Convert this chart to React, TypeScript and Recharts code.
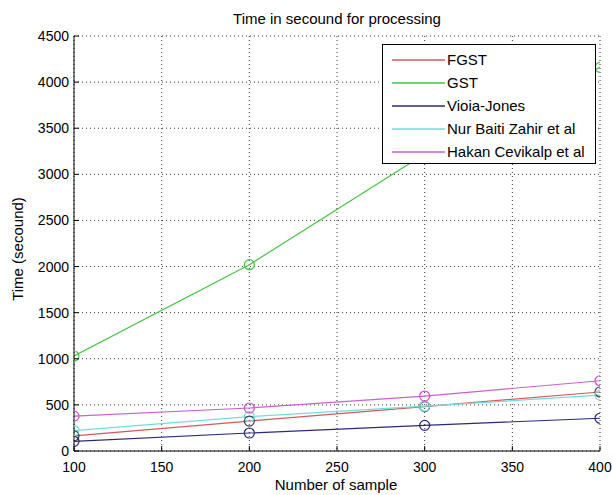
import React from "react";
import { LineChart, Line, XAxis, YAxis, CartesianGrid, Legend } from "recharts";

const samples = [100, 200, 300, 400];
const fgst = [165, 325, 482, 640];
const gst = [1030, 2020, 3220, 4160];
const violaJones = [105, 195, 278, 355];
const nurBaiti = [222, 372, 486, 606];
const hakan = [378, 466, 596, 762];

const xTicks = [100, 150, 200, 250, 300, 350, 400];
const yTicks = [0, 500, 1000, 1500, 2000, 2500, 3000, 3500, 4000, 4500];

const seriesNames = ["FGST", "GST", "Vioia-Jones", "Nur Baiti Zahir et al", "Hakan Cevikalp et al"];
const seriesKeys = ["fgst", "gst", "vj", "nur", "hakan"];
const lineColors = ["#d25a5a", "#44c444", "#2a2a7c", "#70dede", "#cc5fcc"];
const dotColors = ["#3c3c3c", "#44c444", "#22227a", "#70dede", "#cc4fcc"];

const data = samples.map((s, i) => ({
  x: s,
  fgst: fgst[i],
  gst: gst[i],
  vj: violaJones[i],
  nur: nurBaiti[i],
  hakan: hakan[i],
}));

const FONT = '"Liberation Sans", Arial, sans-serif';

const XTick = (props: any) => {
  const { x, y, payload } = props;
  return (
    <g>
      <line x1={x} x2={x} y1={y} y2={y - 5} stroke="#000" strokeWidth={1} />
      <text x={x} y={y + 21} textAnchor="middle" fontSize={14} fontFamily={FONT} fill="#000">
        {payload.value}
      </text>
    </g>
  );
};

const YTick = (props: any) => {
  const { x, y, payload } = props;
  return (
    <g>
      <line x1={x} x2={x + 5} y1={y} y2={y} stroke="#000" strokeWidth={1} />
      <text x={x - 5} y={y + 5} textAnchor="end" fontSize={14} fontFamily={FONT} fill="#000">
        {payload.value}
      </text>
    </g>
  );
};

const LegendBox = () => (
  <div
    style={{
      width: 214,
      height: 120,
      border: "1px solid #000",
      background: "#fff",
      boxSizing: "border-box",
      paddingTop: 3,
    }}
  >
    {seriesNames.map((n, i) => (
      <div key={n} style={{ display: "flex", alignItems: "center", height: 23 }}>
        <svg width={64} height={10} style={{ flex: "none" }}>
          <line x1={9} x2={62} y1={5} y2={5} stroke={lineColors[i]} strokeWidth={1.3} />
        </svg>
        <span style={{ fontSize: 15, fontFamily: FONT, color: "#000", whiteSpace: "nowrap" }}>{n}</span>
      </div>
    ))}
  </div>
);

export default function App() {
  return (
    <div style={{ position: "absolute", left: 0, top: 0, width: 613, height: 495, background: "#fff" }}>
      <LineChart width={613} height={495} data={data} margin={{ top: 36, right: 13, left: 0, bottom: 0 }}>
        <CartesianGrid stroke="#333" strokeDasharray="1 3" strokeWidth={1} />
        <XAxis
          dataKey="x"
          type="number"
          domain={[100, 400]}
          ticks={xTicks}
          height={44}
          tickSize={0}
          tickMargin={0}
          tickLine={false}
          axisLine={{ stroke: "#000" }}
          tick={<XTick />}
          interval={0}
          allowDataOverflow
        />
        <YAxis
          type="number"
          domain={[0, 4500]}
          ticks={yTicks}
          width={74}
          tickSize={0}
          tickMargin={0}
          tickLine={false}
          axisLine={{ stroke: "#000" }}
          tick={<YTick />}
          interval={0}
          allowDataOverflow
        />
        <Legend
          layout="horizontal"
          align="center"
          verticalAlign="middle"
          wrapperStyle={{ left: 382, top: 44, width: 214, height: 120 }}
          content={<LegendBox />}
        />
        {seriesKeys.map((k, i) => (
          <Line
            key={k}
            dataKey={k}
            name={seriesNames[i]}
            stroke={lineColors[i]}
            strokeWidth={1.2}
            dot={{ r: 5, fill: "none", stroke: dotColors[i], strokeWidth: 1.2 }}
            activeDot={false}
            isAnimationActive={false}
          />
        ))}
        <text x={337} y={24} textAnchor="middle" fontSize={15} fontFamily={FONT} fill="#000">
          Time in secound for processing
        </text>
        <text x={336} y={490} textAnchor="middle" fontSize={15} fontFamily={FONT} fill="#000">
          Number of sample
        </text>
        <text
          x={0}
          y={0}
          transform="translate(23 249) rotate(-90)"
          textAnchor="middle"
          fontSize={15}
          fontFamily={FONT}
          fill="#000"
        >
          Time (secound)
        </text>
      </LineChart>
    </div>
  );
}
